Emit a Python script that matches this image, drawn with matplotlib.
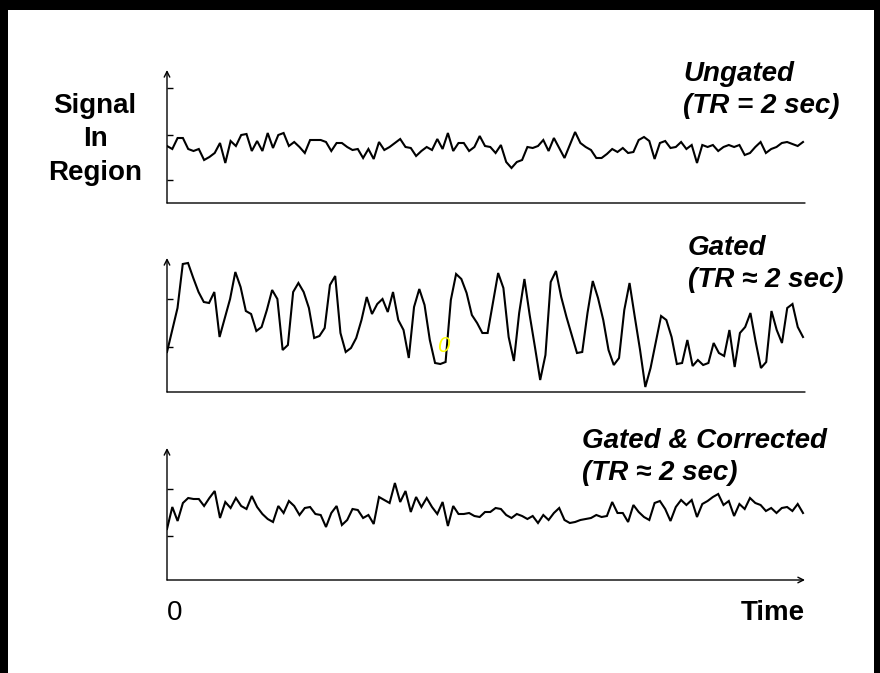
import matplotlib.pyplot as plt
from matplotlib.patches import Rectangle

# signal in region, arbitrary units
ungated = [57, 54, 65, 65, 54, 52, 54, 43, 46, 50, 60, 40, 62, 57, 68, 69, 52, 62, 52, 70,
           55, 68, 70, 57, 61, 56, 50, 63, 63, 63, 61, 52, 60, 60, 56, 53, 54, 45, 54, 44,
           61, 53, 56, 60, 64, 56, 55, 47, 52, 56, 53, 64, 54, 70, 52, 60, 60, 52, 56, 67,
           57, 56, 50, 58, 41, 35, 41, 43, 56, 55, 57, 63, 52, 65, 55, 45, 58, 71, 60, 56,
           53, 45, 45, 49, 54, 51, 55, 50, 51, 63, 66, 62, 44, 60, 62, 55, 56, 61, 54, 58,
           40, 58, 56, 58, 52, 56, 58, 56, 58, 48, 50, 56, 61, 50, 54, 56, 60, 61, 59, 57, 61]
gated = [40, 62, 84, 128, 129, 114, 100, 90, 89, 100, 55, 74, 93, 120, 105, 81, 78, 61, 65, 82,
         102, 93, 42, 47, 100, 109, 100, 84, 54, 56, 64, 107, 116, 59, 40, 44, 54, 72, 95, 78,
         88, 93, 80, 100, 72, 62, 34, 85, 103, 87, 52, 29, 28, 30, 92, 118, 113, 99, 77, 69,
         59, 59, 89, 119, 104, 55, 31, 79, 113, 77, 45, 12, 37, 110, 121, 95, 75, 57, 39, 40,
         79, 111, 94, 72, 42, 27, 34, 82, 109, 75, 42, 5, 24, 50, 76, 72, 55, 28, 29, 52,
         26, 32, 27, 29, 49, 39, 36, 62, 25, 59, 65, 79, 50, 24, 30, 81, 62, 49, 84, 88, 65, 55]
corrected = [51, 73, 59, 77, 82, 81, 81, 74, 82, 89, 62, 78, 72, 82, 74, 71, 84, 73, 66, 61,
             58, 74, 67, 79, 74, 65, 72, 73, 66, 65, 53, 67, 74, 55, 60, 71, 70, 62, 65, 56,
             83, 80, 77, 97, 78, 89, 68, 83, 73, 82, 73, 66, 78, 54, 74, 66, 66, 67, 64, 63,
             68, 68, 72, 71, 65, 62, 66, 64, 61, 64, 57, 65, 60, 67, 72, 60, 57, 58, 60, 61,
             62, 65, 63, 64, 78, 67, 67, 58, 75, 68, 63, 60, 77, 79, 71, 59, 73, 80, 75, 80,
             63, 76, 79, 83, 86, 75, 79, 64, 76, 71, 82, 77, 75, 69, 72, 67, 72, 73, 69, 76, 67]

panel_labels = ["Ungated\n(TR = 2 sec)",
                "Gated\n(TR \u2248 2 sec)",
                "Gated & Corrected\n(TR \u2248 2 sec)"]
panel_ticks = [[23, 68, 115], [45, 93], [44, 91]]

W, H = 880, 673
FONT = ['Liberation Sans', 'DejaVu Sans']


def fx(px):
    return px / W


def fy(py):
    return 1 - py / H


def draw_panel(fig, top, bottom, values, ticks, arrow_x=False):
    ax = fig.add_axes([fx(167), fy(bottom), fx(805) - fx(167), fy(top) - fy(bottom)])
    ax.set_facecolor('none')
    ax.set_zorder(2)
    n = len(values)
    ax.plot(range(n), values, color='black', lw=1.5, solid_joinstyle='miter')
    ax.set_xlim(0, (n - 1) * 638 / 636)
    ax.set_ylim(0, bottom - top)
    for s in ax.spines.values():
        s.set_visible(False)
    ax.set_xticks([])
    ax.set_yticks(ticks)
    ax.tick_params(axis='y', direction='in', length=4, width=1, labelleft=False)
    ax.annotate('', xy=(0, 1), xytext=(0, 0), xycoords='axes fraction',
                arrowprops=dict(arrowstyle='->', lw=1, color='black',
                                shrinkA=0, shrinkB=0))
    ax.annotate('', xy=(1, 0), xytext=(0, 0), xycoords='axes fraction',
                arrowprops=dict(arrowstyle='->' if arrow_x else '-', lw=1,
                                color='black', shrinkA=0, shrinkB=0))
    return ax


fig = plt.figure(figsize=(8.8, 6.73), dpi=100)
fig.patch.set_facecolor('black')
fig.patches.append(Rectangle((fx(8), 0), fx(874) - fx(8), fy(10), transform=fig.transFigure,
                             facecolor='white', edgecolor='none', zorder=-10))

draw_panel(fig, 70, 203, ungated, panel_ticks[0])
draw_panel(fig, 258, 392, gated, panel_ticks[1])
draw_panel(fig, 448, 580, corrected, panel_ticks[2], arrow_x=True)

label_kw = dict(fontsize=20, fontweight='bold', fontstyle='italic', family=FONT,
                ha='left', va='baseline', linespacing=1.32, zorder=3)
fig.text(fx(683), fy(113), panel_labels[0], **label_kw)
fig.text(fx(688), fy(287), panel_labels[1], **label_kw)
fig.text(fx(582), fy(480), panel_labels[2], **label_kw)

fig.text(fx(95), fy(180), "Signal\nIn\nRegion", fontsize=20, fontweight='bold',
         family=FONT, ha='center', va='baseline', multialignment='center',
         linespacing=1.38, zorder=3)
fig.text(fx(167), fy(620), "0", fontsize=20, family=FONT, ha='left', va='baseline', zorder=3)
fig.text(fx(805), fy(620), "Time", fontsize=20, fontweight='bold', family=FONT,
         ha='right', va='baseline', zorder=3)
fig.text(fx(437), fy(352), "0", fontsize=16, fontstyle='italic', color='yellow',
         family=FONT, ha='left', va='baseline', zorder=3)

fig.savefig('out.png', dpi=100, facecolor=fig.get_facecolor())
